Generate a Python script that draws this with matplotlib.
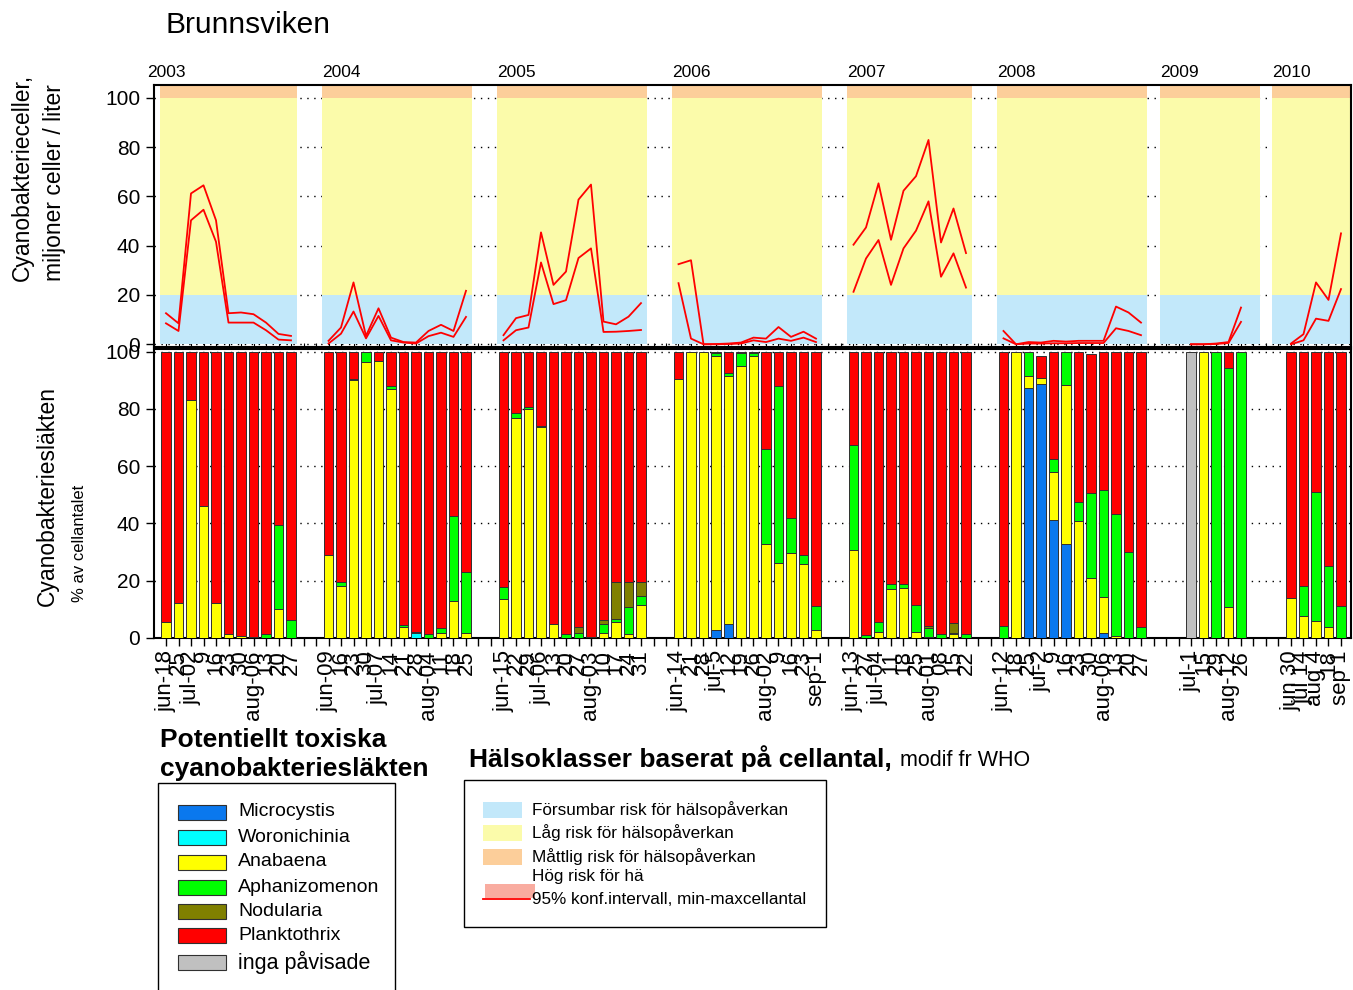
import numpy as np
import matplotlib
matplotlib.use("Agg")
import matplotlib.pyplot as plt
import matplotlib.transforms as mtransforms
from matplotlib.patches import Rectangle
from matplotlib.lines import Line2D

plt.rcParams['font.family'] = ['Liberation Sans', 'DejaVu Sans']

# ---- data ----
years = ["2003", "2004", "2005", "2006", "2007", "2008", "2009", "2010"]
year_n = [11, 12, 12, 12, 10, 12, 5, 5]

dates = ["jun-18", "25", "jul-02", "9", "16", "23", "30", "aug-06", "13", "20", "27",
         "jun-09", "16", "23", "30", "jul-07", "14", "21", "28", "aug-04", "11", "18", "25",
         "jun-15", "22", "29", "jul-06", "13", "20", "27", "aug-03", "10", "17", "24", "31",
         "jun-14", "21", "28", "jul-5", "12", "19", "26", "aug-02", "9", "16", "23", "sep-1",
         "jun-13", "27", "jul-04", "11", "18", "25", "aug-01", "08", "15", "22",
         "jun-12", "18", "25", "jul-2", "9", "16", "23", "30", "aug-06", "13", "20", "27",
         "jul-1", "15", "29", "aug-12", "26",
         "jun 30", "jul 14", "aug 4", "18", "sep 1"]

# miljoner celler / liter (upper and lower limit)
upper = [12.6, 8.5, 61.2, 64.5, 50.3, 12.6, 12.9, 12.2, 8.8, 4.2, 3.4,
         1.4, 6.8, 25.1, 3.4, 14.6, 2.7, 0.9, 0.7, 5.4, 7.9, 5.4, 21.7,
         3.7, 10.6, 11.9, 45.4, 24.1, 29.5, 58.7, 64.8, 9.2, 8.1, 11.2, 16.7,
         32.5, 34.1, 0, 0.1, 0.3, 0.7, 2.7, 2.3, 7.0, 3.0, 5.1, 2.3,
         40.4, 47.4, 65.3, 42.4, 62.3, 68.2, 82.9, 41.3, 55.1, 37.0,
         5.4, 0, 0.9, 0.7, 1.4, 1.1, 1.4, 1.4, 1.4, 15.3, 12.9, 8.8,
         0, 0, 0.3, 0.9, 14.9,
         0.3, 4.1, 25.1, 18.0, 45.0]
lower = [8.5, 5.4, 50.3, 54.6, 41.6, 8.8, 8.8, 8.8, 5.7, 1.9, 1.6,
         0.3, 4.3, 13.3, 2.4, 11.5, 1.6, 0.7, 0.3, 3.3, 4.7, 3.0, 11.1,
         1.6, 5.7, 6.8, 33.2, 16.3, 17.9, 35.0, 38.9, 5.0, 5.1, 5.4, 5.8,
         24.8, 2.3, 0, 0, 0.1, 0.3, 1.6, 0.9, 2.3, 1.4, 2.7, 0.9,
         21.3, 34.8, 42.3, 24.1, 38.9, 46.1, 58.0, 27.4, 36.9, 23.0,
         2.4, 0, 0.3, 0.3, 0.4, 0.4, 0.5, 0.5, 0.5, 6.5, 5.4, 3.7,
         0, 0, 0.1, 0.5, 9.1,
         0, 1.6, 10.4, 9.5, 22.4]

# % av cellantalet per släkte
microcystis = [0]*11 + [0]*12 + [0]*12 + \
    [0, 0, 0, 2.7, 4.8, 0, 0, 0, 0, 0, 0, 0] + [0]*10 + \
    [0, 0, 87.3, 88.7, 41.0, 32.8, 0, 0, 1.8, 0, 0, 0] + [0]*5 + [0]*5
woronichinia = [0]*11 + [0, 0, 0, 0, 0, 0, 0, 1.5, 0, 0, 0, 0] + [0]*12 + [0]*12 + \
    [0]*10 + [0]*12 + [0]*5 + [0]*5
anabaena = [5.4, 12.0, 83.2, 46.2, 12.0, 1.3, 0.6, 0.2, 0, 10.0, 0,
            29.0, 18.2, 90.0, 96.4, 96.9, 86.9, 3.6, 0.6, 0, 1.5, 12.7, 1.5,
            13.4, 76.9, 79.9, 73.6, 4.7, 0, 0, 0, 1.5, 5.4, 1.3, 11.4,
            90.4, 100, 100, 96.0, 86.9, 94.9, 98.6, 32.7, 26.3, 29.5, 25.8, 2.7,
            30.7, 0, 2.1, 16.9, 17.3, 2.1, 0.4, 0, 1.2, 0,
            0, 100, 4.1, 2.3, 16.9, 55.6, 40.8, 21.0, 12.6, 0.7, 0, 0,
            0, 100, 0, 10.6, 0,
            14.0, 7.7, 6.0, 3.6, 0]
aphanizomenon = [0, 0, 0, 0, 0, 0, 0, 0, 1.3, 29.4, 6.1,
                 0, 1.2, 0.5, 3.4, 0, 1.2, 0.8, 0, 1.2, 2.0, 30.0, 21.6,
                 4.5, 1.6, 0.7, 0.5, 0, 1.3, 1.5, 0.2, 3.4, 1.3, 9.3, 3.2,
                 0, 0, 0, 0.8, 0.8, 4.6, 0.9, 33.3, 61.8, 12.3, 3.1, 8.5,
                 36.7, 0.9, 3.5, 1.9, 1.5, 9.3, 2.9, 1.2, 0.6, 1.3,
                 4.2, 0, 8.6, 0, 4.6, 11.6, 6.8, 29.5, 37.1, 42.6, 29.9, 3.6,
                 0, 0, 100, 83.7, 100,
                 0, 10.5, 44.9, 21.6, 11.2]
nodularia = [0]*11 + [0]*12 + \
    [0, 0, 0, 0, 0, 0, 2.1, 0, 1.3, 12.7, 8.8, 5.0] + [0]*12 + \
    [0, 0, 0, 0, 0, 0, 0.8, 0, 3.2, 0] + [0]*12 + [0]*5 + [0]*5
planktothrix = [94.6, 88.0, 16.8, 53.8, 88.0, 98.7, 99.4, 99.8, 98.7, 60.6, 93.9,
                71.0, 80.6, 9.5, 0.2, 3.1, 11.9, 95.6, 97.9, 98.8, 96.5, 57.3, 76.9,
                82.1, 21.5, 19.4, 25.9, 95.3, 98.7, 96.4, 99.8, 93.8, 80.6, 80.6, 80.4,
                9.6, 0, 0, 0.5, 7.5, 0.5, 0.5, 34.0, 11.9, 58.2, 71.1, 88.8,
                32.6, 99.1, 94.4, 81.2, 81.2, 88.6, 95.9, 98.8, 95.0, 98.7,
                95.8, 0, 0, 7.4, 37.5, 0, 52.4, 48.7, 48.5, 56.7, 70.1, 96.4,
                0, 0, 0, 5.7, 0,
                86.0, 81.8, 49.1, 74.8, 88.8]
inga = [0]*(11 + 12 + 12 + 12 + 10 + 12) + [100, 0, 0, 0, 0] + [0]*5

genera = ["Microcystis", "Woronichinia", "Anabaena", "Aphanizomenon",
          "Nodularia", "Planktothrix", "inga påvisade"]
genus_values = [microcystis, woronichinia, anabaena, aphanizomenon,
                nodularia, planktothrix, inga]
genus_colors = ["#0A78EE", "#00FFFF", "#FFFF00", "#00FF00",
                "#808000", "#FF0000", "#C0C0C0"]

risk_labels = ["Försumbar risk för hälsopåverkan", "Låg risk för hälsopåverkan",
               "Måttlig risk för hälsopåverkan"]
risk_colors = ["#C2E8FA", "#FBFBAA", "#FCCE9A"]
risk_limits = [0, 20, 100, 110]

# ---- layout of the date slots (empty slots in 2009/2010, gaps between years) ----
pad_before = [0, 0, 0, 0, 0, 0, 2, 1]
pad_after = [0, 0, 0, 0, 0, 0, 1, 0]
gap = [2, 2, 2, 2, 2, 1, 1, 0]

xs, bands, year_x = [], [], []
pos = 0
for i, n in enumerate(year_n):
    start = pos
    pos += pad_before[i]
    year_x.append(list(range(pos, pos + n)))
    xs.extend(range(pos, pos + n))
    pos += n + pad_after[i]
    bands.append((start - 0.5, pos - 0.5))
    pos += gap[i]
xs = np.array(xs)
nslots = pos

W, H = 1353, 990
fig = plt.figure(figsize=(W / 100, H / 100), dpi=100)


def fx(px):
    return px / W


def fy(py):
    return 1 - py / H


left, right = 153.5, 1351
XMIN, XMAX = -1, 94.8
ax1 = fig.add_axes([fx(left), fy(346.5), (right - left) / W, (346.5 - 85) / H])
ax2 = fig.add_axes([fx(left), fy(637.7), (right - left) / W, (637.7 - 349.5) / H])

# ---- top panel: health classes + cell counts ----
for k, (a, b) in enumerate(bands):
    if k == len(bands) - 1:
        b = XMAX
    for j in range(3):
        ax1.add_patch(Rectangle((a, risk_limits[j]), b - a,
                                risk_limits[j + 1] - risk_limits[j],
                                facecolor=risk_colors[j], lw=0, zorder=1))

i0 = 0
for k, n in enumerate(year_n):
    ax1.plot(year_x[k], upper[i0:i0 + n], color="red", lw=1.3, zorder=3)
    ax1.plot(year_x[k], lower[i0:i0 + n], color="red", lw=1.3, zorder=3)
    i0 += n

ax1.set_xlim(XMIN, XMAX)
ax1.set_ylim(-0.9, 105.2)
ax1.set_yticks([0, 20, 40, 60, 80, 100])
ax1.set_xticks(range(nslots))
ax1.set_xticklabels([])
ax1.yaxis.grid(True, linestyle=(0, (1, 4)), color="black", lw=1)
ax1.set_axisbelow(True)
ax1.tick_params(axis="y", labelsize=15, length=6, width=1, direction="out")
ax1.tick_params(axis="x", length=3, width=0.8, direction="in")
for s in ax1.spines.values():
    s.set_linewidth(1.5)

trans = mtransforms.blended_transform_factory(ax1.transData, ax1.transAxes)
for k, yr in enumerate(years):
    xpos = bands[k][0] - (1.0 if k == 0 else 0)
    ax1.text(xpos, 1.02, yr, transform=trans, fontsize=12.5, ha="left", va="bottom")

# ---- bottom panel: genera composition ----
bottom = np.zeros(len(xs))
for name, vals, col in zip(genera, genus_values, genus_colors):
    vals = np.array(vals, dtype=float)
    m = vals > 0
    ax2.bar(xs[m], vals[m], bottom=bottom[m], width=0.78, color=col,
            edgecolor="#303030", lw=0.7, zorder=3)
    bottom += vals

ax2.set_xlim(XMIN, XMAX)
ax2.set_ylim(0, 100.8)
ax2.set_yticks([0, 20, 40, 60, 80, 100])
ax2.set_xticks(xs)
ax2.set_xticklabels(dates, rotation=90, fontsize=16)
ax2.set_xticks(range(nslots), minor=True)
ax2.yaxis.grid(True, linestyle=(0, (1, 4)), color="black", lw=1)
ax2.set_axisbelow(True)
ax2.tick_params(axis="y", labelsize=15, length=6, width=1, direction="out")
ax2.tick_params(axis="x", which="both", length=6, width=1, direction="out", pad=3)
for s in ax2.spines.values():
    s.set_linewidth(1.5)

# ---- texts ----
fig.text(fx(165), fy(25), "Brunnsviken", fontsize=21.5, ha="left", va="center")
fig.text(fx(38), fy(281), "Cyanobakterieceller,\nmiljoner celler / liter",
         rotation=90, ha="center", va="bottom", fontsize=16.5, linespacing=1.5,
         multialignment="left")
fig.text(fx(47), fy(496), "Cyanobakteriesläkten", rotation=90, ha="center",
         va="center", fontsize=16.5)
fig.text(fx(80), fy(543), "% av cellantalet", rotation=90, ha="center",
         va="center", fontsize=12)

# legend 1: genera
fig.text(fx(160), fy(728), "Potentiellt toxiska\ncyanobakteriesläkten", fontsize=19,
         weight="bold", ha="left", va="top", linespacing=1.25)
fig.patches.append(Rectangle((fx(158), fy(1000)), (395 - 158) / W, (1000 - 783) / H,
                             transform=fig.transFigure, fill=False, ec="black", lw=1))
rows = [812, 837, 862, 887, 911, 935, 962]
for name, col, yy in zip(genera, genus_colors, rows):
    fig.patches.append(Rectangle((fx(178), fy(yy + 7.5)), 48 / W, 15 / H,
                                 transform=fig.transFigure, facecolor=col,
                                 ec="#303030", lw=0.8))
    fig.text(fx(238), fy(yy), name, fontsize=15.5 if name == "inga påvisade" else 14,
             ha="left", va="center")

# legend 2: health classes
fig.text(fx(469), fy(759), "Hälsoklasser baserat på cellantal,", fontsize=19,
         weight="bold", ha="left", va="center")
fig.text(fx(900), fy(761), "modif fr WHO", fontsize=15.5, ha="left", va="center")
fig.patches.append(Rectangle((fx(464), fy(927)), (826 - 464) / W, (927 - 780) / H,
                             transform=fig.transFigure, fill=False, ec="black", lw=1))
for lab, col, yy in zip(risk_labels, risk_colors, [810, 833, 857]):
    fig.patches.append(Rectangle((fx(483), fy(yy + 8)), 39 / W, 16 / H,
                                 transform=fig.transFigure, facecolor=col, lw=0))
    fig.text(fx(532), fy(yy), lab, fontsize=12.3, ha="left", va="center")
fig.text(fx(532), fy(876), "Hög risk för hä", fontsize=12.3, ha="left", va="center")
fig.patches.append(Rectangle((fx(485), fy(898)), 50 / W, 14 / H,
                             transform=fig.transFigure, facecolor="#F9ACA0", lw=0))
fig.lines.append(Line2D([fx(483), fx(530)], [fy(899), fy(899)],
                        transform=fig.transFigure, color="red", lw=1.3))
fig.text(fx(532), fy(900), "95% konf.intervall, min-maxcellantal", fontsize=12.3,
         ha="left", va="center")

fig.savefig("out.png", dpi=100)
